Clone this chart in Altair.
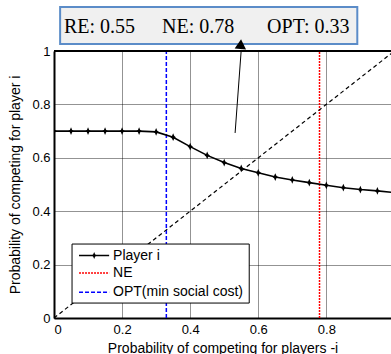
import altair as alt
import pandas as pd

# ---- data ----
x_vals = [0.00, 0.05, 0.10, 0.15, 0.20, 0.25, 0.30, 0.35, 0.40, 0.45, 0.50,
          0.55, 0.60, 0.65, 0.70, 0.75, 0.80, 0.85, 0.90, 0.95, 1.00]
player_i = [0.700, 0.700, 0.700, 0.700, 0.700, 0.700, 0.697, 0.677, 0.642, 0.609, 0.582,
            0.560, 0.544, 0.528, 0.517, 0.507, 0.497, 0.488, 0.481, 0.476, 0.470]
diag_x = [0.0, 1.0]
ne_value = 0.78
opt_value = 0.33
re_value = 0.55
annot_labels = ["RE: 0.55", "NE: 0.78", "OPT: 0.33"]
legend_labels = ["Player i", "NE", "OPT(min social cost)"]
x_ticks = [0, 0.2, 0.4, 0.6, 0.8]
y_ticks = [0, 0.2, 0.4, 0.6, 0.8, 1.0]

FONT = "Liberation Sans"
XS = alt.Scale(domain=[0, 0.99], nice=False, zero=False)
YS = alt.Scale(domain=[0, 1], nice=False, zero=False)
XAX = alt.Axis(values=x_ticks, format="~g", title="Probability of competing for players -i")
YAX = alt.Axis(values=y_ticks, format="~g", title="Probability of competing for player i")


def X(f):
    return alt.X(f, type="quantitative", scale=XS, axis=XAX)


def Y(f):
    return alt.Y(f, type="quantitative", scale=YS, axis=YAX)


curve = pd.DataFrame({"x": x_vals, "y": player_i})
diag = pd.DataFrame({"x": diag_x, "y": diag_x})
vlines = pd.DataFrame({"x": [ne_value], "y": [0.0], "y2": [1.0]})
vopt = pd.DataFrame({"x": [opt_value], "y": [0.0], "y2": [1.0]})
top = pd.DataFrame({"x": [0.0], "x2": [0.99], "y": [1.0]})

star = "M0,-1L0.3,-0.3L0.7,0L0.3,0.3L0,1L-0.3,0.3L-0.7,0L-0.3,-0.3Z"

l_ne = alt.Chart(vlines).mark_rule(color="red", strokeDash=[2, 1], strokeWidth=1.5).encode(
    x=X("x"), y=Y("y"), y2="y2")
l_opt = alt.Chart(vopt).mark_rule(color="blue", strokeDash=[4, 2], strokeWidth=1.5).encode(
    x=X("x"), y=Y("y"), y2="y2")
l_diag = alt.Chart(diag).mark_line(color="black", strokeDash=[4, 3], strokeWidth=1.2, clip=True).encode(
    x=X("x"), y=Y("y"))
l_curve = alt.Chart(curve).mark_line(color="black", strokeWidth=1.6, clip=True).encode(
    x=X("x"), y=Y("y"))
l_pts = alt.Chart(curve).mark_point(shape=star, filled=True, color="black", size=60, opacity=1, clip=True).encode(
    x=X("x"), y=Y("y"))
l_top = alt.Chart(top).mark_rule(color="black", strokeWidth=2).encode(
    x=X("x"), x2="x2", y=Y("y"))

# legend (manual, inside the plot)
leg_box = pd.DataFrame({"x": [0.053], "x2": [0.5735], "y": [0.277], "y2": [0.056]})
leg_y = [0.234, 0.169, 0.096]
leg_colors = ["black", "red", "blue"]
leg_dash = [[1, 0], [2, 1], [4, 2]]
l_legbox = alt.Chart(leg_box).mark_rect(fill="white", stroke="black", strokeWidth=1).encode(
    x=X("x"), x2="x2", y=Y("y"), y2="y2")
leg_layers = [l_legbox]
for lab, yy, col, dsh in zip(legend_labels, leg_y, leg_colors, leg_dash):
    d = pd.DataFrame({"x": [0.0735], "x2": [0.162], "y": [yy], "label": [lab], "xt": [0.1735], "xm": [0.118]})
    leg_layers.append(alt.Chart(d).mark_rule(color=col, strokeDash=dsh, strokeWidth=1.5).encode(
        x=X("x"), x2="x2", y=Y("y")))
    leg_layers.append(alt.Chart(d).mark_text(align="left", baseline="middle", font=FONT, fontSize=14,
                                             color="black").encode(x=X("xt"), y=Y("y"), text="label"))
    if lab == "Player i":
        leg_layers.append(alt.Chart(d).mark_point(shape=star, filled=True, color="black", size=50, opacity=1).encode(
            x=X("xm"), y=Y("y")))

# annotation box with arrow
box = pd.DataFrame({"x": [0.018], "x2": [0.891], "y": [1.165], "y2": [1.026]})
l_box = alt.Chart(box).mark_rect(fill="#f0f0f0", stroke="#5b8cc8", strokeWidth=2).encode(
    x=X("x"), x2="x2", y=Y("y"), y2="y2")
ann = pd.DataFrame({"x": [0.0294, 0.3176, 0.626], "y": [1.069] * 3, "label": annot_labels})
l_ann = alt.Chart(ann).mark_text(align="left", baseline="alphabetic", font="Liberation Serif",
                                 fontSize=20, color="black").encode(x=X("x"), y=Y("y"), text="label")
arrow = pd.DataFrame({"x": [0.532], "x2": [0.55], "y": [0.693], "y2": [1.004]})
l_arrow = alt.Chart(arrow).mark_rule(color="black", strokeWidth=1).encode(
    x=X("x"), x2="x2", y=Y("y"), y2="y2")
head = pd.DataFrame({"x": [0.5485], "y": [1.026]})
l_head = alt.Chart(head).mark_point(shape="triangle-up", filled=True, color="black", size=130,
                                    opacity=1, angle=4).encode(x=X("x"), y=Y("y"))

chart = alt.layer(
    l_ne, l_opt, l_diag, l_curve, l_pts, l_top, *leg_layers, l_arrow, l_box, l_ann, l_head
).properties(
    width=337, height=267,
    autosize=alt.AutoSizeParams(type="none"),
    padding={"left": 54, "top": 51, "right": 0, "bottom": 36},
).configure_view(stroke=None).configure_axis(
    domainColor="black", domainWidth=2, ticks=False,
    gridColor="#000", gridDash=[1, 1], gridWidth=1, gridOpacity=0.85,
    labelFont=FONT, labelFontSize=13, labelColor="black",
    titleFont=FONT, titleFontSize=14, titleFontWeight="normal", titleColor="black",
).configure_axisY(labelPadding=4, titlePadding=9).configure_axisX(labelPadding=5, titlePadding=5)

chart.save("out.html", embed_options={"renderer": "svg", "actions": False})
